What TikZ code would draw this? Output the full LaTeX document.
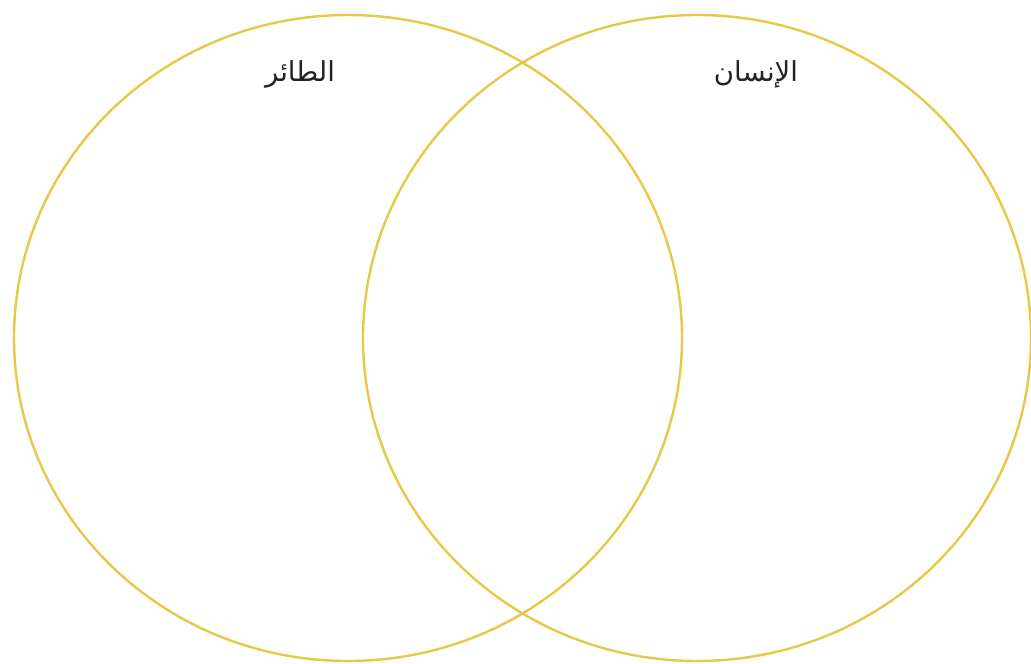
\documentclass[tikz,border=0pt]{standalone}
\usepackage{fontspec}
\TeXXeTstate=1
\newfontfamily\arabicfont[Script=Arabic]{DejaVu Sans}
\definecolor{venngold}{RGB}{232,200,72}
\definecolor{labelgray}{RGB}{35,35,35}
\tikzset{
  venn/.style={draw=venngold, line width=2.4pt},
  lbl/.style={font=\arabicfont\fontsize{27.5}{30}\selectfont, text=labelgray, inner sep=0pt}
}
\begin{document}
\begin{tikzpicture}[x=1pt,y=-1pt]
\useasboundingbox (0,0) rectangle (1031,664);
\fill[white] (0,0) rectangle (1031,664);
\draw[venn] (348,338) ellipse [x radius=334, y radius=323];
\draw[venn] (697,338) ellipse [x radius=334, y radius=323];
\node[lbl] (bird) at (300,74) {\beginR الطائر\endR};
\node[lbl] (human) at (756,74) {\beginR الإنسان\endR};
\end{tikzpicture}
\end{document}
